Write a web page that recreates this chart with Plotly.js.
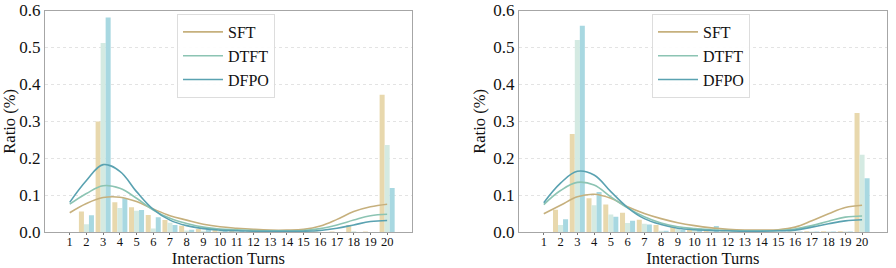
<!DOCTYPE html>
<html><head><meta charset="utf-8">
<script src="https://cdn.plot.ly/plotly-3.0.1.min.js"></script>
<style>html,body{margin:0;padding:0;background:#fff}#chart{width:896px;height:268px}</style>
</head><body><div id="chart"></div>
<script>
const turns = [1,2,3,4,5,6,7,8,9,10,11,12,13,14,15,16,17,18,19,20];
const seriesNames = ['SFT','DTFT','DFPO'];

// Left panel bar values
const leftSFT  = [0, 0.056, 0.300, 0.081, 0.068, 0.047, 0.033, 0.018, 0.009, 0.008, 0.004, 0.002, 0.002, 0.002, 0.002, 0.002, 0.002, 0.020, 0.002, 0.372];
const leftDTFT = [0, 0.022, 0.512, 0.066, 0.058, 0.010, 0.026, 0.005, 0.004, 0.004, 0.003, 0.002, 0.002, 0.001, 0.001, 0.001, 0.001, 0.003, 0.001, 0.236];
const leftDFPO = [0, 0.046, 0.581, 0.092, 0.060, 0.041, 0.020, 0.007, 0.012, 0.006, 0.005, 0.002, 0.002, 0.001, 0.001, 0.001, 0.001, 0.001, 0.001, 0.120];
// Left panel smooth curves
const leftCurveSFT  = [0.053, 0.078, 0.094, 0.095, 0.083, 0.063, 0.045, 0.033, 0.022, 0.015, 0.011, 0.008, 0.006, 0.006, 0.008, 0.017, 0.035, 0.056, 0.069, 0.076];
const leftCurveDTFT = [0.076, 0.105, 0.126, 0.119, 0.092, 0.060, 0.038, 0.024, 0.014, 0.009, 0.007, 0.005, 0.004, 0.004, 0.005, 0.010, 0.020, 0.033, 0.045, 0.049];
const leftCurveDFPO = [0.081, 0.140, 0.183, 0.165, 0.110, 0.062, 0.033, 0.018, 0.010, 0.006, 0.004, 0.003, 0.003, 0.003, 0.003, 0.005, 0.011, 0.020, 0.029, 0.032];

// Right panel bar values
const rightSFT  = [0, 0.061, 0.266, 0.092, 0.075, 0.053, 0.034, 0.020, 0.015, 0.010, 0.004, 0.003, 0.002, 0.002, 0.002, 0.002, 0.003, 0.003, 0.003, 0.323];
const rightDTFT = [0, 0.020, 0.520, 0.073, 0.048, 0.025, 0.023, 0.004, 0.010, 0.006, 0.003, 0.002, 0.002, 0.002, 0.002, 0.002, 0.002, 0.002, 0.002, 0.210];
const rightDFPO = [0, 0.035, 0.559, 0.109, 0.042, 0.031, 0.021, 0.004, 0.006, 0.010, 0.017, 0.003, 0.002, 0.002, 0.002, 0.002, 0.002, 0.002, 0.002, 0.146];
// Right panel smooth curves
const rightCurveSFT  = [0.050, 0.073, 0.096, 0.103, 0.092, 0.069, 0.051, 0.037, 0.026, 0.018, 0.012, 0.008, 0.006, 0.006, 0.007, 0.014, 0.031, 0.050, 0.067, 0.073];
const rightCurveDTFT = [0.075, 0.113, 0.135, 0.128, 0.096, 0.066, 0.042, 0.025, 0.015, 0.010, 0.007, 0.005, 0.004, 0.004, 0.005, 0.009, 0.018, 0.030, 0.041, 0.044];
const rightCurveDFPO = [0.080, 0.133, 0.165, 0.155, 0.110, 0.067, 0.037, 0.021, 0.011, 0.007, 0.005, 0.004, 0.003, 0.003, 0.004, 0.006, 0.014, 0.023, 0.031, 0.034];

const yTicks = [0, 0.1, 0.2, 0.3, 0.4, 0.5, 0.6];
const yTickText = ['0.0','0.1','0.2','0.3','0.4','0.5','0.6'];

const barColors  = ['#e8d8ad', '#d4eae2', '#a8d8e1'];
const lineColors = ['#c6b07d', '#8cc4b3', '#5aa2b1'];
const FONT = 'Liberation Serif';

const panels = [
  {bars:[leftSFT,leftDTFT,leftDFPO], curves:[leftCurveSFT,leftCurveDTFT,leftCurveDFPO], xa:'x', ya:'y', legend:'legend'},
  {bars:[rightSFT,rightDTFT,rightDFPO], curves:[rightCurveSFT,rightCurveDTFT,rightCurveDFPO], xa:'x2', ya:'y2', legend:'legend2'}
];

const data = [];
panels.forEach(p => {
  p.bars.forEach((vals, i) => {
    data.push({type:'bar', x:turns, y:vals, name:seriesNames[i], xaxis:p.xa, yaxis:p.ya,
      marker:{color:barColors[i], line:{width:0}}, showlegend:false, hoverinfo:'skip'});
  });
});
panels.forEach(p => {
  p.curves.forEach((vals, i) => {
    data.push({type:'scatter', mode:'lines', x:turns, y:vals, name:seriesNames[i], xaxis:p.xa, yaxis:p.ya,
      legend:p.legend, line:{color:lineColors[i], width:1.6, shape:'spline', smoothing:1.1}});
  });
});

function xAxis(domain, anchor) {
  return {domain:domain, anchor:anchor, range:[-0.48, 21.47], tickvals:turns, ticktext:turns.map(String),
    showgrid:false, zeroline:false, showline:true, mirror:true, linecolor:'#a6a6a6', linewidth:1,
    ticks:'outside', ticklen:2, tickcolor:'#777', ticklabelstandoff:-4,
    tickfont:{family:FONT, size:12.5, color:'#111'},
    title:{text:'Interaction Turns', font:{family:FONT, size:16.5, color:'#111'}, standoff:3}};
}
function yAxis(domain, anchor) {
  return {domain:domain, anchor:anchor, range:[0, 0.6], tickvals:yTicks, ticktext:yTickText,
    showgrid:true, gridcolor:'#dcdcdc', griddash:'dot', gridwidth:0.8, zeroline:false,
    showline:true, mirror:true, linecolor:'#a6a6a6', linewidth:1, ticks:'', 
    tickfont:{family:FONT, size:17, color:'#111'},
    title:{text:'Ratio (%)', font:{family:FONT, size:16.5, color:'#111'}, standoff:3}};
}
const yDom = [1 - 232.3/268, 1 - 10.5/268];
const legendBase = {bgcolor:'rgba(255,255,255,0.9)', bordercolor:'#dddddd', borderwidth:1,
  font:{family:FONT, size:16, color:'#111'}, xanchor:'left', yanchor:'top', tracegroupgap:0, itemwidth:40};

const layout = {
  width:896, height:268, margin:{l:0, r:0, t:0, b:0},
  paper_bgcolor:'#fff', plot_bgcolor:'#fff',
  barmode:'group', bargap:0.1, bargroupgap:0,
  xaxis: xAxis([45/896, 411.7/896], 'y'),
  yaxis: yAxis(yDom, 'x'),
  xaxis2: xAxis([519/896, 886.7/896], 'y2'),
  yaxis2: yAxis(yDom, 'x2'),
  legend: Object.assign({}, legendBase, {x:177/896, y:1 - 14/268}),
  legend2: Object.assign({}, legendBase, {x:652/896, y:1 - 14/268}),
  font:{family:FONT}
};
Plotly.newPlot('chart', data, layout, {staticPlot:true, displayModeBar:false});
</script></body></html>
